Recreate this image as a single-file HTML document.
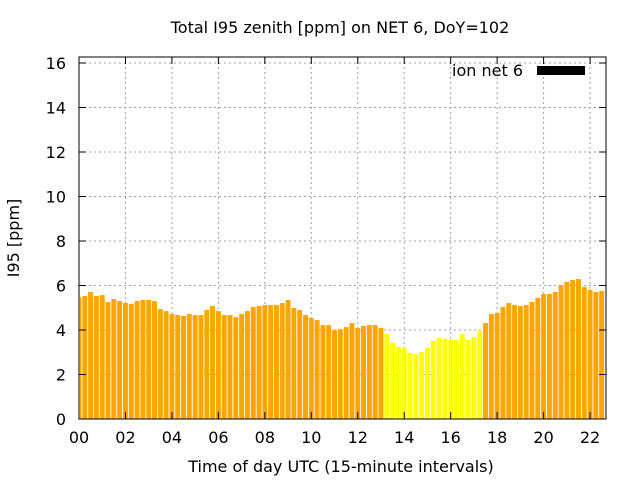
<!DOCTYPE html>
<html><head><meta charset="utf-8"><style>
body{margin:0;background:#fff;}
svg text{font-family:"DejaVu Sans","Liberation Sans",sans-serif;fill:#000;}
</style></head><body>
<svg width="640" height="480" viewBox="0 0 640 480" xmlns="http://www.w3.org/2000/svg">
<rect x="0" y="0" width="640" height="480" fill="#fff"/>
<g id="grid"></g>
<g id="bars"></g>
<g id="axes"></g>
<text x="340" y="33" font-size="16" text-anchor="middle">Total I95 zenith [ppm] on NET 6, DoY=102</text>
<text x="341" y="472" font-size="16" text-anchor="middle">Time of day UTC (15-minute intervals)</text>
<text transform="translate(19,238) rotate(-90)" font-size="16" text-anchor="middle">I95 [ppm]</text>
<g>
<text x="523" y="76" font-size="16" text-anchor="end">ion net 6</text>
<rect x="537" y="66" width="48" height="9" fill="#000"/>
</g>
</svg>
<script>
const values = [5.48,5.53,5.71,5.53,5.57,5.26,5.39,5.30,5.21,5.17,5.30,5.35,5.35,5.30,4.94,4.85,4.72,4.67,4.63,4.72,4.67,4.67,4.90,5.08,4.85,4.67,4.67,4.58,4.72,4.85,5.03,5.08,5.12,5.12,5.12,5.21,5.35,4.99,4.90,4.67,4.54,4.45,4.22,4.22,4.00,4.04,4.13,4.31,4.09,4.18,4.22,4.22,4.09,3.82,3.42,3.24,3.19,2.97,2.92,3.01,3.19,3.51,3.64,3.60,3.55,3.55,3.82,3.55,3.69,3.96,4.31,4.72,4.76,5.03,5.21,5.12,5.08,5.12,5.26,5.44,5.62,5.62,5.71,6.02,6.16,6.25,6.29,5.93,5.80,5.71,5.75,5.71];
const yellowFrom = 53, yellowTo = 69;
const yTicks = [0,2,4,6,8,10,12,14,16];
const xTickLabels = ["00","02","04","06","08","10","12","14","16","18","20","22"];
const xTickHours = [0,2,4,6,8,10,12,14,16,18,20,22];

const L=79,R=606,T=57,B=419;
const yMax=(B-T)/22.25, xMax=(R-L)/23.23;
const NS="http://www.w3.org/2000/svg";
const X=h=>L+h/xMax*(R-L);
const Y=v=>B-v/yMax*(B-T);
function mk(tag,attrs,parent){const e=document.createElementNS(NS,tag);for(const k in attrs)e.setAttribute(k,attrs[k]);parent.appendChild(e);return e;}
const grid=document.getElementById('grid'),bars=document.getElementById('bars'),axes=document.getElementById('axes');
yTicks.forEach(v=>{
 const y=Y(v);
 if(v>0){const g=mk('line',{x1:L,x2:R,y1:y,y2:y,stroke:'#a0a0a0','stroke-width':1,'stroke-dasharray':'2,3'},grid);
 
 }
 const t=mk('line',{x1:L,x2:L+7,y1:y,y2:y,stroke:'#000'},axes);
 
 
 const t2=mk('line',{x1:R-7,x2:R,y1:y,y2:y,stroke:'#000'},axes);
 
 
 const tx=mk('text',{x:66,y:y+6,'font-size':16,'text-anchor':'end'},axes);tx.textContent=v;
 
 
});
xTickHours.forEach((h,i)=>{
 const x=X(h);
 if(h>0){const g=mk('line',{x1:x,x2:x,y1:T,y2:B,stroke:'#a0a0a0','stroke-width':1,'stroke-dasharray':'2,3'},grid);
 
 }
 const t=mk('line',{x1:x,x2:x,y1:B-7,y2:B,stroke:'#000'},axes);
 
 
 const t2=mk('line',{x1:x,x2:x,y1:T,y2:T+7,stroke:'#000'},axes);
 
 
 const tx=mk('text',{x:x,y:443,'font-size':16,'text-anchor':'middle'},axes);tx.textContent=xTickLabels[i];
 
 
});
const step=X(0.25)-X(0), bw=step*0.85;
values.forEach((v,i)=>{
 const cx=X(i*0.25);
 let x0=Math.max(L+1,cx-bw/2), x1=Math.min(R-1,cx+bw/2);
 if(x1<=x0)return;
 const r=mk('rect',{x:x0,y:Y(v),width:x1-x0,height:B-Y(v),fill:(i>=yellowFrom&&i<=yellowTo)?'#ffff00':'#ffa500'},bars);
 
 
});
const f=mk('rect',{x:L,y:T,width:R-L,height:B-T,fill:'none',stroke:'#000','stroke-width':1},axes);


</script>
</body></html>
